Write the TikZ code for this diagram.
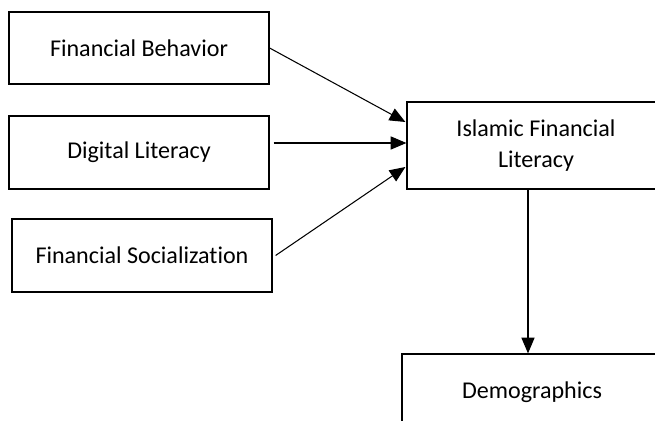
\documentclass[tikz,border=0pt]{standalone}
\usepackage{fontspec}
\setmainfont{Carlito}[Ligatures=NoCommon]
\usetikzlibrary{arrows.meta,calc}

\begin{document}
\begin{tikzpicture}[x=0.02cm, y=-0.02cm,
    every node/.style={font=\fontsize{13.7}{18}\selectfont},
    varbox/.style={draw, line width=0.7pt, inner sep=0pt, align=center, minimum width=5.2cm},
    link/.style={line width=0.6pt, -{Triangle[length=9pt,width=7.5pt]}}]
    \clip (0,0) rectangle (655,421);
    \node[varbox, minimum height=1.44cm] (fb) at (139,48) {Financial Behavior};
    \node[varbox, minimum height=1.46cm] (dl) at (139,152.5) {Digital Literacy};
    \node[varbox, minimum height=1.46cm] (fs) at (142,255.5) {Financial Socialization};
    \node[varbox, minimum width=5.16cm, minimum height=1.74cm] (ifl) at (536,145.5) {Islamic Financial\\Literacy};
    \node[varbox, minimum height=1.52cm] (demo) at (532,392) {Demographics};
    \draw[link] (fb.east) -- ($(ifl.west)+(-1,-23.5)$);
    \draw[link] ($(dl.east)+(4,-9.5)$) -- ($(ifl.west)+(0,-2.5)$);
    \draw[link] ($(fs.east)+(3,0)$) -- ($(ifl.west)+(-1,21.5)$);
    \draw[link] ($(ifl.south)+(-8,0)$) -- ($(demo.north)+(-4,0)$);
  \end{tikzpicture}
\end{document}
